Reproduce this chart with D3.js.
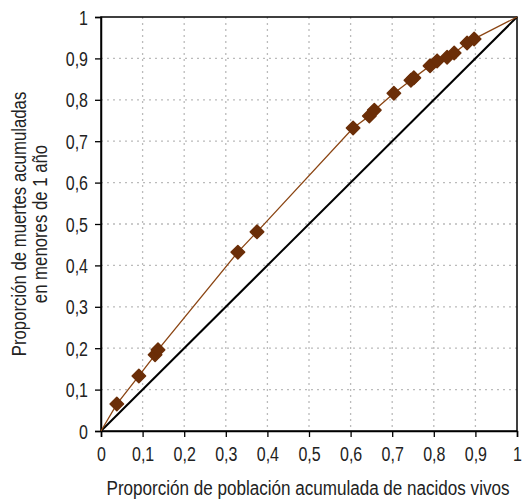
<!DOCTYPE html>
<html><head><meta charset="utf-8">
<script src="https://cdn.jsdelivr.net/npm/d3@7"></script>
<style>body{margin:0;background:#fff}</style>
</head><body>
<svg id="c" width="523" height="502"></svg>
<script>
const xVals = [0, 0.038, 0.091, 0.130, 0.137, 0.329, 0.375, 0.606, 0.645, 0.657, 0.704, 0.745, 0.752, 0.791, 0.808, 0.832, 0.849, 0.880, 0.897, 1];
const yVals = [0, 0.065, 0.133, 0.184, 0.196, 0.432, 0.481, 0.732, 0.761, 0.775, 0.816, 0.847, 0.853, 0.882, 0.894, 0.903, 0.913, 0.937, 0.947, 1];
const markerFlags = [0,1,1,1,1,1,1,1,1,1,1,1,1,1,1,1,1,1,1,0];
const tickVals = [0,0.1,0.2,0.3,0.4,0.5,0.6,0.7,0.8,0.9,1];
const xTitle = "Proporción de población acumulada de nacidos vivos";
const yTitle = ["Proporción de muertes acumuladas", "en menores de 1 año"];

const svg = d3.select("#c");
const m = {l:101, r:517, t:17, b:431};
const x = d3.scaleLinear().domain([0,1]).range([m.l, m.r]);
const y = d3.scaleLinear().domain([0,1]).range([m.b, m.t]);
const fmt = d => d===0 ? "0" : d===1 ? "1" : d3.format(".1f")(d).replace(".", ",");
const font = "'Liberation Sans',Arial,sans-serif";

// grid
const g = svg.append("g");
g.selectAll(".vg").data(tickVals.slice(1,-1)).join("line")
  .attr("x1", d=>x(d)).attr("x2", d=>x(d)).attr("y1", m.t).attr("y2", m.b)
  .attr("stroke", "#bbb").attr("stroke-width", 1.3).attr("stroke-dasharray", "2,4");
g.selectAll(".hg").data(tickVals.slice(1,-1)).join("line")
  .attr("y1", d=>y(d)).attr("y2", d=>y(d)).attr("x1", m.l).attr("x2", m.r)
  .attr("stroke", "#bbb").attr("stroke-width", 1.3).attr("stroke-dasharray", "2,4");

// border
svg.append("rect").attr("x", m.l).attr("y", m.t).attr("width", m.r-m.l).attr("height", m.b-m.t)
  .attr("fill", "none").attr("stroke", "#000").attr("stroke-width", 1.5);

// axes
const xa = svg.append("g").attr("transform", `translate(0,${m.b})`)
  .call(d3.axisBottom(x).tickValues(tickVals).tickFormat(fmt).tickSize(6).tickPadding(10));
const ya = svg.append("g").attr("transform", `translate(${m.l},0)`)
  .call(d3.axisLeft(y).tickValues(tickVals).tickFormat(fmt).tickSize(6).tickPadding(7));
[xa, ya].forEach(a => {
  a.select(".domain").attr("stroke", "#000").attr("stroke-width", 1.5);
  a.selectAll(".tick line").attr("stroke", "#000").attr("stroke-width", 1.3);
  a.selectAll(".tick text").attr("font-family", font).attr("font-size", 19.5).attr("fill", "#222");
});
xa.selectAll(".tick text").attr("transform", "scale(0.82,1)");
ya.selectAll(".tick text").attr("x", 0).attr("dy", "0.36em").attr("transform", "translate(-13,0) scale(0.82,1)");

// diagonal
svg.append("line").attr("x1", x(0)).attr("y1", y(0)).attr("x2", x(1)).attr("y2", y(1))
  .attr("stroke", "#000").attr("stroke-width", 2);

// curve
const pts = xVals.map((v,i)=>({x:v, y:yVals[i], m:markerFlags[i]}));
svg.append("path").datum(pts)
  .attr("d", d3.line().x(d=>x(d.x)).y(d=>y(d.y)))
  .attr("fill", "none").attr("stroke", "#8B4513").attr("stroke-width", 1.3);

// markers
svg.selectAll(".mk").data(pts.filter(d=>d.m)).join("path")
  .attr("transform", d=>`translate(${x(d.x)},${y(d.y)})`)
  .attr("d", d3.symbol().type(d3.symbolDiamond2 || d3.symbolDiamond).size(115))
  .attr("fill", "#6B2E08").attr("stroke", "#6B2E08").attr("stroke-width", 1.5).attr("stroke-linejoin", "round");

// titles
svg.append("text").attr("transform", "translate(308,495) scale(0.875,1)").attr("text-anchor", "middle")
  .attr("font-family", font).attr("font-size", 19.5).attr("fill", "#222").text(xTitle);
const yt = svg.append("text").attr("transform", "translate(26,224) rotate(-90) scale(0.86,1)")
  .attr("text-anchor", "middle").attr("font-family", font).attr("font-size", 19.5).attr("fill", "#222");
yTitle.forEach((t,i)=> yt.append("tspan").attr("x", 0).attr("dy", i===0 ? 0 : 21).text(t));
</script>
</body></html>
